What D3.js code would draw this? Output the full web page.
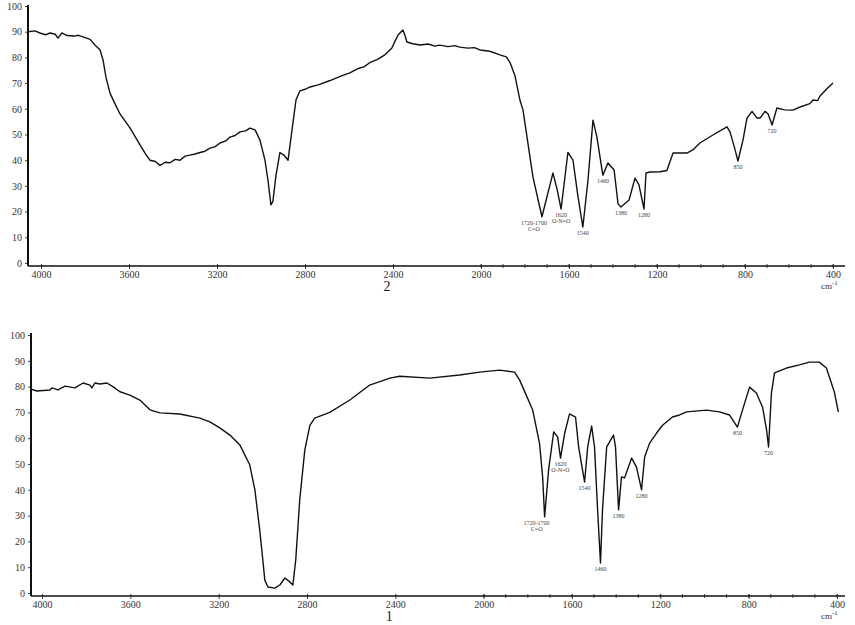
<!DOCTYPE html>
<html>
<head>
<meta charset="utf-8">
<script src="https://cdn.jsdelivr.net/npm/d3@7"></script>
<style>
  body { margin: 0; background: #fff; }
  text { font-family: "Liberation Serif", "DejaVu Serif", serif; }
</style>
</head>
<body>
<script>
// spectrum 2 (top panel): [wavenumber cm-1, transmittance %]
var spectrum2 = [
  [4059,90],[4027,90.3],[4005,89.5],[3980,88.8],[3959,89.5],[3935,89],[3923,87.5],[3905,89.5],
  [3882,88.5],[3850,88.3],[3830,88.6],[3809,88],[3777,87],[3755,84.8],[3732,83],[3718,79],
  [3705,72.4],[3686,66],[3664,62],[3641,58],[3595,52.5],[3550,46],[3525,42.5],[3505,40],
  [3480,39.5],[3459,38],[3435,39.2],[3414,39],[3390,40.3],[3368,40],[3345,41.6],[3323,42],
  [3300,42.4],[3277,43],[3255,43.5],[3232,44.7],[3210,45.2],[3186,46.7],[3160,47.5],[3141,49],
  [3118,49.6],[3095,51],[3070,51.4],[3050,52.5],[3027,51.8],[3005,47.9],[2982,40],
  [2968,32],[2955,22.6],[2946,24],[2932,34],[2914,43],[2896,42],[2877,40],[2859,51.8],
  [2841,63.4],[2823,67],[2800,67.6],[2777,68.5],[2740,69.3],[2686,71],[2640,72.6],[2596,74],
  [2560,75.6],[2530,76.4],[2505,78],[2470,79.2],[2437,81],[2405,83.7],[2377,88.7],[2355,90.7],
  [2345,88.4],[2337,86],[2310,85.3],[2277,84.8],[2240,85.2],[2210,84.4],[2187,84.8],[2150,84.2],
  [2120,84.6],[2096,84],[2060,83.6],[2030,83.8],[2005,82.9],[1960,82.4],[1914,81],
  [1885,80.2],[1868,78],[1846,73],[1823,63.4],[1809,59.5],[1764,33.5],[1723,18],[1673,35],[1655,29],
  [1636,21],[1605,43],[1582,40],[1559,25.7],[1537,14],[1514,32],[1491,55.6],[1473,49],
  [1450,36.2],[1446,34.2],[1423,38.9],[1395,36.2],[1377,23],[1364,21.8],[1327,24.5],[1300,33],
  [1282,30.4],[1259,21],[1250,35],[1232,35.4],[1186,35.5],[1155,36],[1127,42.8],[1064,42.8],
  [1037,44],[1005,46.7],[946,49.8],[882,53],[868,51],[845,44],[832,39.7],[809,47.9],
  [791,56.4],[768,59],[745,56.4],[732,56.4],[709,59],[695,58],[677,53.7],[655,60.3],
  [620,59.6],[582,59.5],[550,60.7],[505,62],[491,63.4],[470,63.2],[459,65],[430,67.6],[400,70]
];

// spectrum 1 (bottom panel)
var spectrum1 = [
  [4050,79],[4023,78.3],[3964,78.7],[3955,79.5],[3928,78.7],[3896,80.2],[3851,79.5],[3814,81.4],
  [3783,80.6],[3774,79.5],[3760,81.4],[3738,81],[3706,81.4],[3679,80],[3647,78],[3602,76.7],
  [3557,74.8],[3511,71],[3466,69.8],[3376,69.4],[3285,67.8],[3240,66.3],[3195,64],[3149,61.2],
  [3104,57.4],[3059,49.6],[3036,40],[3014,24.4],[3000,12.8],[2991,5],[2977,2.3],[2946,1.9],
  [2923,3.1],[2900,5.8],[2878,4.3],[2864,3.1],[2851,12.8],[2833,36],[2810,55.4],[2787,65],
  [2765,67.8],[2697,70],[2606,74.8],[2516,80.6],[2425,83.3],[2380,84],[2244,83.3],[2109,84.5],
  [2018,85.6],[1928,86.4],[1860,85.6],[1837,82.5],[1778,70.9],[1747,58],[1733,45],[1724,29.5],
  [1706,47.7],[1683,62.4],[1665,60.5],[1652,52.3],[1633,62],[1611,69.4],[1584,68.2],[1570,56.6],
  [1543,43],[1529,56.6],[1511,64.7],[1498,56.6],[1484,32.2],[1471,11.6],[1462,32.2],[1443,56.6],
  [1412,61.2],[1403,56.6],[1389,32.2],[1376,45],[1362,44.6],[1330,52.3],[1308,48.8],[1285,40],
  [1271,52.7],[1249,58],[1217,62],[1190,65],[1145,68.2],[1113,69],[1081,70.2],[991,70.9],
  [932,70.2],[887,69],[851,64.3],[828,70.9],[796,79.8],[765,77.5],[737,72],[719,63.2],
  [710,56.6],[697,77.5],[683,85.3],[629,87.2],[570,88.4],[525,89.5],[480,89.5],[448,87.2],
  [412,77.9],[394,70.2]
];

var yTicks = [0,10,20,30,40,50,60,70,80,90,100];
var xTicks = [4000,3600,3200,2800,2400,2000,1600,1200,800,400];
var xMinor = d3.range(2000, 399, -100);

// band labels: text lines and the band they mark
var bands = [
  {lines: ["1720-1700", "C=O"], wn: 1720},
  {lines: ["1620", "O-N=O"], wn: 1630},
  {lines: ["1540"], wn: 1540},
  {lines: ["1460"], wn: 1460},
  {lines: ["1380"], wn: 1380},
  {lines: ["1280"], wn: 1275},
  {lines: ["850"], wn: 845},
  {lines: ["720"], wn: 700}
];

var panels = [
  {data: spectrum2, name: "2", left: 28, right: 845, xr: [41, 833], yr: [263, 6], axisY: 266, top: 5},
  {data: spectrum1, name: "1", left: 31, right: 845, xr: [42, 837], yr: [593, 335], axisY: 596, top: 333}
];

var svg = d3.select("body").append("svg")
  .attr("width", 855)
  .attr("height", 625);

panels.forEach(function(p) {
  var x = d3.scaleLinear().domain([4000, 400]).range(p.xr);
  var y = d3.scaleLinear().domain([0, 100]).range(p.yr);
  var g = svg.append("g");

  // y axis
  var yAxis = d3.axisLeft(y).tickValues(yTicks).tickSize(3).tickPadding(3);
  var gy = g.append("g").attr("transform", `translate(${p.left},0)`).call(yAxis);
  gy.select(".domain").remove();
  gy.selectAll("text").attr("font-size", 10).attr("font-family", "Liberation Serif").attr("fill", "#333");
  gy.selectAll("line").attr("stroke", "#444");
  g.append("line")
    .attr("x1", p.left).attr("x2", p.left)
    .attr("y1", p.top).attr("y2", p.axisY)
    .attr("stroke", "#111").attr("stroke-width", 2);

  // x axis
  var xAxis = d3.axisBottom(x).tickValues(xTicks).tickSize(3).tickPadding(2).tickFormat(d3.format("d"));
  var gx = g.append("g").attr("transform", `translate(0,${p.axisY})`).call(xAxis);
  gx.select(".domain").remove();
  gx.selectAll("text").attr("font-size", 10).attr("font-family", "Liberation Serif").attr("fill", "#333");
  gx.selectAll("line").attr("stroke", "#444").attr("y1", -2);
  g.append("g").attr("transform", `translate(0,${p.axisY})`)
    .selectAll("line").data(xMinor).enter().append("line")
    .attr("x1", d => x(d)).attr("x2", d => x(d))
    .attr("y1", -2).attr("y2", 2)
    .attr("stroke", "#555");
  g.append("line")
    .attr("x1", p.left).attr("x2", p.right)
    .attr("y1", p.axisY).attr("y2", p.axisY)
    .attr("stroke", "#111").attr("stroke-width", 1.6);

  // unit and panel name
  var unit = g.append("text")
    .attr("x", p.right - 24).attr("y", p.axisY + 23)
    .attr("font-size", 9).attr("fill", "#333");
  unit.append("tspan").text("cm");
  unit.append("tspan").attr("dy", -4).attr("font-size", 7).text("-1");

  g.append("text")
    .attr("x", x(2400) - 6).attr("y", p.axisY + 25)
    .attr("text-anchor", "middle")
    .attr("font-size", 14).attr("fill", "#222")
    .text(p.name);

  // spectrum
  var line = d3.line().x(d => x(d[0])).y(d => y(d[1]));
  g.append("path")
    .datum(p.data)
    .attr("d", line)
    .attr("fill", "none")
    .attr("stroke", "#111")
    .attr("stroke-width", 1.4)
    .attr("stroke-linejoin", "round");

  // band labels under the dips
  bands.forEach(function(b) {
    var near = p.data.filter(d => Math.abs(d[0] - b.wn) <= 30);
    var dip = d3.least(near, d => d[1]);
    var t = g.append("text")
      .attr("x", x(dip[0]) + (b.lines.length > 1 && b.wn > 1700 ? -8 : 0))
      .attr("y", y(dip[1]) + 8)
      .attr("text-anchor", "middle")
      .attr("font-size", 6).attr("fill", "#444");
    b.lines.forEach(function(s, i) {
      t.append("tspan").attr("x", t.attr("x")).attr("dy", i ? 6 : 0).text(s);
    });
  });
});
</script>
</body>
</html>
